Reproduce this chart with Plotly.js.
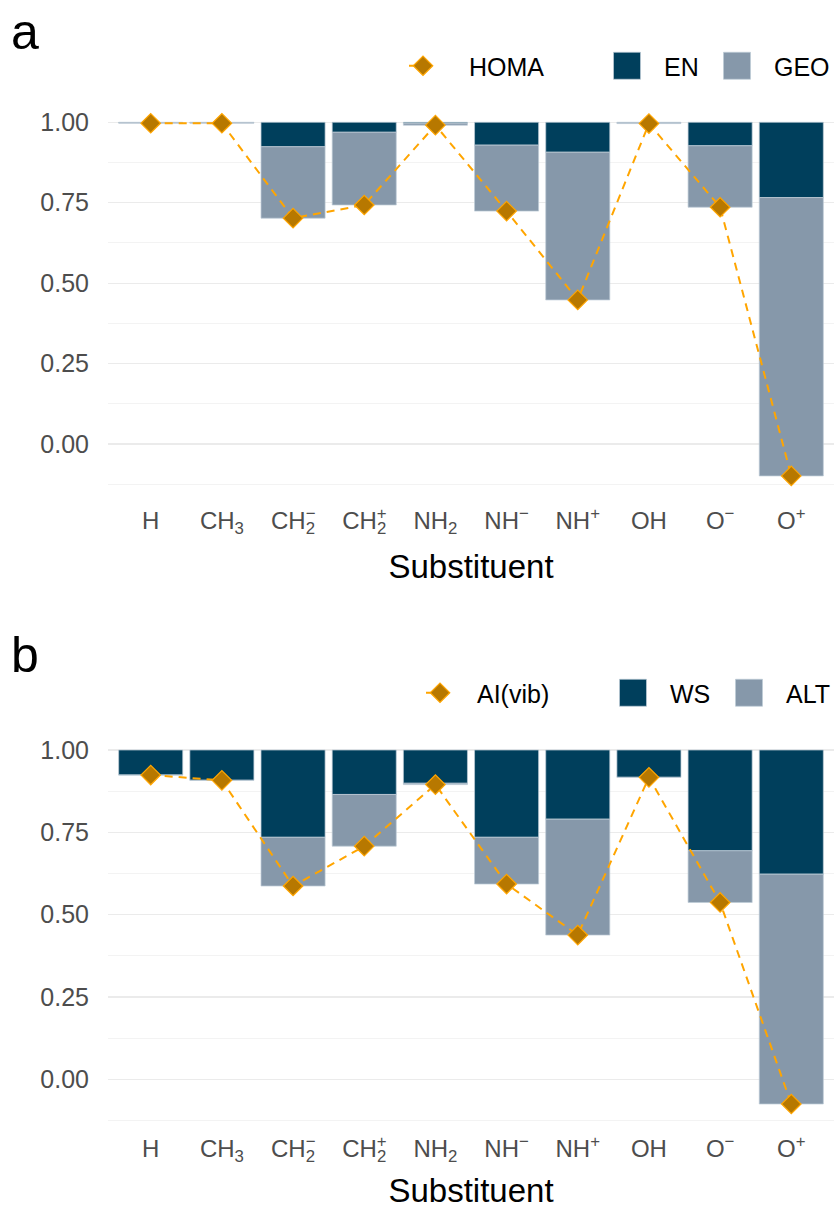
<!DOCTYPE html>
<html>
<head>
<meta charset="utf-8">
<script src="https://cdn.plot.ly/plotly-3.0.1.min.js"></script>
<style>html,body{margin:0;padding:0;background:#fff}</style>
</head>
<body>
<div id="chart" style="width:835px;height:1209px"></div>
<script>
// Substituent labels; the superscript charge sits above the subscript 2
const STACK = '<span style="letter-spacing:-0.58em">';
const substituents = ['H', 'CH<sub>3</sub>',
  'CH<sup>' + STACK + '−</span></sup><sub>2</sub>', 'CH<sup>' + STACK + '+</span></sup><sub>2</sub>',
  'NH<sub>2</sub>', 'NH<sup>−</sup>', 'NH<sup>+</sup>', 'OH', 'O<sup>−</sup>', 'O<sup>+</sup>'];

// Panel a: HOMA index and its EN / GEO terms
const homa = [0.997, 0.997, 0.702, 0.743, 0.991, 0.724, 0.448, 0.996, 0.736, -0.099];
const en   = [0.001, 0.001, 0.076, 0.031, 0.003, 0.071, 0.093, 0.001, 0.073, 0.234];
const geo  = [0.002, 0.002, 0.222, 0.226, 0.006, 0.205, 0.459, 0.003, 0.191, 0.865];

// Panel b: AI(vib) index and its WS / ALT terms
const aiVib = [0.924, 0.908, 0.587, 0.708, 0.895, 0.593, 0.438, 0.917, 0.537, -0.075];
const ws    = [0.076, 0.092, 0.265, 0.135, 0.101, 0.265, 0.210, 0.083, 0.306, 0.377];
const alt   = [0.000, 0.000, 0.148, 0.157, 0.004, 0.142, 0.352, 0.000, 0.157, 0.698];

const DARK = '#003f5c', LIGHT = '#8698aa', FILL = '#b77800', ORANGE = '#ffa500';
const FONT = 'Liberation Sans, Arial, Helvetica, sans-serif';

// Bars hang down from 1: first term directly under 1, second term under the first.
function hangingBars(first, second, names, xa, ya, legends) {
  const edge = {color: 'rgba(190,203,215,0.9)', width: 0.8};
  return [
    {type: 'bar', name: names[0], x: substituents, y: first, base: first.map(v => 1 - v),
     marker: {color: DARK, line: edge}, xaxis: xa, yaxis: ya, legend: legends[0], hoverinfo: 'skip'},
    {type: 'bar', name: names[1], x: substituents, y: second,
     base: second.map((v, i) => 1 - first[i] - v),
     marker: {color: LIGHT, line: edge}, xaxis: xa, yaxis: ya, legend: legends[1], hoverinfo: 'skip'}
  ];
}

function indexLine(vals, name, xa, ya, legend) {
  return {type: 'scatter', mode: 'lines+markers', name: name, x: substituents, y: vals,
    line: {color: ORANGE, width: 2, dash: '8px,6px'},
    marker: {symbol: 'diamond', size: 15, color: FILL, line: {color: ORANGE, width: 1.2}},
    xaxis: xa, yaxis: ya, legend: legend, cliponaxis: false, hoverinfo: 'skip'};
}

// bars first so the index lines are drawn on top
const data = [
  ...hangingBars(en, geo, ['EN', 'GEO'], 'x', 'y', ['legend2', 'legend3']),
  ...hangingBars(ws, alt, ['WS', 'ALT'], 'x2', 'y2', ['legend5', 'legend6']),
  indexLine(homa, 'HOMA', 'x', 'y', 'legend'),
  indexLine(aiVib, 'AI(vib)', 'x2', 'y2', 'legend4')
];

function xAxis(anchor) {
  return {anchor: anchor, domain: [0, 1], range: [-0.6, 9.6], type: 'category',
    showgrid: false, zeroline: false, showline: false, ticks: '', ticklabelstandoff: 10,
    tickfont: {family: FONT, size: 24, color: '#4d4d4d'},
    title: {text: 'Substituent', font: {family: FONT, size: 33, color: '#000'}, standoff: 18},
    fixedrange: true};
}
function yAxis(anchor, domain, range) {
  return {anchor: anchor, domain: domain, range: range, tick0: 0, dtick: 0.25, tickformat: '.2f',
    showgrid: true, gridcolor: '#ebebeb', gridwidth: 1.3, zeroline: false, showline: false,
    ticks: '', ticklabelstandoff: 18,
    tickfont: {family: FONT, size: 25, color: '#4d4d4d'},
    minor: {tick0: 0, dtick: 0.125, showgrid: true, gridcolor: '#f3f3f3', gridwidth: 1},
    fixedrange: true};
}
function legendAt(xpx, ypx, itemwidth) {
  return {orientation: 'h', x: (xpx - 108) / 727, xanchor: 'left', y: (1209 - ypx) / 1209,
    yanchor: 'middle', bgcolor: 'rgba(0,0,0,0)', borderwidth: 0,
    font: {family: FONT, size: 25, color: '#000'}, itemwidth: itemwidth || 64};
}

const layout = {
  width: 835, height: 1209,
  margin: {l: 108, r: 0, t: 0, b: 0},
  paper_bgcolor: '#fff', plot_bgcolor: '#fff',
  barmode: 'overlay', bargap: 0.1,
  font: {family: FONT},
  xaxis: xAxis('y'),
  yaxis: yAxis('x', [0.5917, 0.9135], [-0.154, 1.055]),
  xaxis2: xAxis('y2'),
  yaxis2: yAxis('x2', [0.0722, 0.3943], [-0.1288, 1.0538]),
  legend: legendAt(377, 66, 82),
  legend2: legendAt(590, 66),
  legend3: legendAt(701, 66),
  legend4: legendAt(403, 693),
  legend5: legendAt(596, 693),
  legend6: legendAt(713, 693),
  annotations: [
    {text: 'a', xref: 'paper', yref: 'paper', x: -0.137, y: (1209 - 32) / 1209,
     xanchor: 'left', yanchor: 'middle', showarrow: false, font: {family: FONT, size: 50, color: '#000'}},
    {text: 'b', xref: 'paper', yref: 'paper', x: -0.137, y: (1209 - 655) / 1209,
     xanchor: 'left', yanchor: 'middle', showarrow: false, font: {family: FONT, size: 50, color: '#000'}}
  ],
  showlegend: true
};

Plotly.newPlot('chart', data, layout, {displayModeBar: false, staticPlot: true}).then(gd => {
  gd.querySelectorAll('.infolayer g.traces').forEach(g => {
    const pts = g.querySelector('path.scatterpts');
    if (pts) {
      // short line stub through the diamond key
      const m = /translate\(\s*([-\d.]+)/.exec(pts.getAttribute('transform') || '');
      const cx = m ? parseFloat(m[1]) : 20;
      g.querySelectorAll('g.legendlines path').forEach(p => p.setAttribute('d', 'M' + (cx - 14) + ',0h28'));
    } else {
      // larger square keys for the bar legends
      g.querySelectorAll('g.legendpoints path').forEach(p => p.setAttribute('d', 'M13.5,13.5H-13.5V-13.5H13.5Z'));
    }
  });
});
</script>
</body>
</html>
